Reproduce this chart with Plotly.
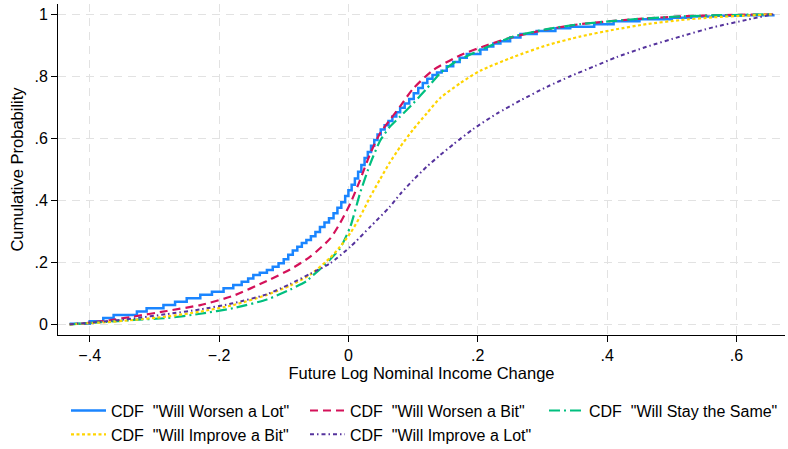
import plotly.graph_objects as go

# Empirical CDFs of future log nominal income change, by expectation group
worsen_lot_x = [-0.431, -0.400, -0.379, -0.363, -0.327, -0.312, -0.286, -0.268, -0.250, -0.229,
                -0.211, -0.193, -0.178, -0.165, -0.155, -0.147, -0.137, -0.126, -0.117, -0.108,
                -0.100, -0.093, -0.086, -0.079, -0.072, -0.065, -0.058, -0.051, -0.044, -0.037,
                -0.030, -0.023, -0.017, -0.011, -0.005, 0.000, 0.005, 0.010, 0.015, 0.020,
                0.025, 0.030, 0.035, 0.040, 0.045, 0.050, 0.056, 0.062, 0.068, 0.074,
                0.080, 0.087, 0.094, 0.101, 0.108, 0.115, 0.122, 0.130, 0.137, 0.144,
                0.152, 0.162, 0.172, 0.183, 0.204, 0.214, 0.224, 0.235, 0.250, 0.266,
                0.291, 0.320, 0.343, 0.380, 0.410, 0.450, 0.500, 0.530, 0.564, 0.610, 0.657]
worsen_lot_p = [0.002, 0.010, 0.020, 0.030, 0.041, 0.052, 0.062, 0.073, 0.084, 0.095,
                0.105, 0.116, 0.127, 0.137, 0.148, 0.159, 0.166, 0.175, 0.186, 0.197,
                0.210, 0.224, 0.238, 0.250, 0.262, 0.272, 0.284, 0.298, 0.314, 0.328,
                0.342, 0.358, 0.376, 0.394, 0.414, 0.432, 0.450, 0.470, 0.492, 0.514,
                0.536, 0.556, 0.576, 0.594, 0.612, 0.628, 0.642, 0.656, 0.670, 0.684,
                0.698, 0.712, 0.727, 0.745, 0.762, 0.778, 0.792, 0.804, 0.812, 0.818,
                0.832, 0.846, 0.860, 0.872, 0.886, 0.896, 0.906, 0.913, 0.925, 0.936,
                0.946, 0.955, 0.960, 0.968, 0.977, 0.984, 0.989, 0.993, 0.995, 0.997, 1.000]

worsen_bit_x = [-0.431, -0.405, -0.370, -0.332, -0.281, -0.229, -0.178, -0.126, -0.090, -0.059,
                -0.028, -0.013, 0.003, 0.018, 0.034, 0.049, 0.064, 0.080, 0.100, 0.131,
                0.173, 0.214, 0.255, 0.307, 0.358, 0.436, 0.513, 0.580, 0.657]
worsen_bit_p = [0.000, 0.004, 0.013, 0.025, 0.043, 0.062, 0.092, 0.140, 0.177, 0.218,
                0.277, 0.326, 0.390, 0.465, 0.552, 0.616, 0.659, 0.703, 0.760, 0.820,
                0.868, 0.900, 0.927, 0.951, 0.968, 0.983, 0.993, 0.997, 1.000]

same_x = [-0.431, -0.380, -0.332, -0.281, -0.229, -0.178, -0.126, -0.090, -0.064, -0.059,
          -0.044, -0.028, -0.013, 0.003, 0.018, 0.034, 0.049, 0.064, 0.080, 0.100,
          0.121, 0.142, 0.162, 0.204, 0.255, 0.307, 0.358, 0.436, 0.513, 0.580, 0.657]
same_p = [0.000, 0.007, 0.014, 0.020, 0.034, 0.052, 0.080, 0.112, 0.140, 0.150,
          0.178, 0.210, 0.245, 0.315, 0.423, 0.519, 0.592, 0.637, 0.670, 0.712,
          0.760, 0.810, 0.842, 0.885, 0.928, 0.952, 0.968, 0.983, 0.993, 0.997, 1.000]

improve_bit_x = [-0.431, -0.380, -0.332, -0.281, -0.229, -0.178, -0.126, -0.090, -0.059, -0.028,
                 -0.013, 0.003, 0.018, 0.034, 0.049, 0.064, 0.080, 0.100, 0.121, 0.142,
                 0.173, 0.204, 0.255, 0.307, 0.358, 0.410, 0.461, 0.513, 0.564, 0.610, 0.657]
improve_bit_p = [0.000, 0.006, 0.014, 0.025, 0.041, 0.062, 0.095, 0.125, 0.160, 0.215,
                 0.250, 0.294, 0.347, 0.412, 0.468, 0.522, 0.572, 0.628, 0.680, 0.730,
                 0.778, 0.818, 0.862, 0.900, 0.928, 0.950, 0.968, 0.981, 0.990, 0.995, 1.000]

improve_lot_x = [-0.431, -0.384, -0.332, -0.281, -0.229, -0.178, -0.126, -0.090, -0.059, -0.028,
                 0.003, 0.034, 0.064, 0.080, 0.100, 0.121, 0.142, 0.162, 0.193, 0.230,
                 0.266, 0.307, 0.343, 0.380, 0.415, 0.461, 0.513, 0.564, 0.616, 0.657]
improve_lot_p = [0.000, 0.008, 0.019, 0.033, 0.048, 0.068, 0.097, 0.130, 0.163, 0.197,
                 0.250, 0.315, 0.379, 0.420, 0.465, 0.508, 0.546, 0.580, 0.630, 0.680,
                 0.722, 0.766, 0.800, 0.832, 0.862, 0.895, 0.928, 0.958, 0.982, 1.000]

series_names = ['CDF  "Will Worsen a Lot"', 'CDF  "Will Worsen a Bit"', 'CDF  "Will Stay the Same"',
                'CDF  "Will Improve a Bit"', 'CDF  "Will Improve a Lot"']

x_tickvals = [-0.4, -0.2, 0, 0.2, 0.4, 0.6]
x_ticktext = ["\u2212.4", "\u2212.2", "0", ".2", ".4", ".6"]
y_tickvals = [0, 0.2, 0.4, 0.6, 0.8, 1.0]
y_ticktext = ["0", ".2", ".4", ".6", ".8", "1"]

FONT = "Liberation Sans, Arial, sans-serif"

fig = go.Figure()
fig.add_trace(go.Scatter(x=worsen_lot_x, y=worsen_lot_p, mode="lines", name=series_names[0],
                         line=dict(color="#1a85ff", width=2.5, shape="hv")))
fig.add_trace(go.Scatter(x=worsen_bit_x, y=worsen_bit_p, mode="lines", name=series_names[1],
                         line=dict(color="#d41159", width=2.2, dash="8px,5px", shape="spline", smoothing=0.6)))
fig.add_trace(go.Scatter(x=same_x, y=same_p, mode="lines", name=series_names[2],
                         line=dict(color="#00bf7f", width=2.2, dash="11px,4px,2px,4px", shape="spline", smoothing=0.6)))
fig.add_trace(go.Scatter(x=improve_bit_x, y=improve_bit_p, mode="lines", name=series_names[3],
                         line=dict(color="#ffd400", width=2.2, dash="3px,2.5px", shape="spline", smoothing=0.6)))
fig.add_trace(go.Scatter(x=improve_lot_x, y=improve_lot_p, mode="lines", name=series_names[4],
                         line=dict(color="#55339d", width=2, dash="4px,3px,1.5px,3px", shape="spline", smoothing=0.6)))

axis_style = dict(showgrid=True, gridcolor="#e2e2e2", gridwidth=1.2, griddash="8px,6px",
                  zeroline=False, showline=True, linecolor="black", linewidth=1,
                  ticks="outside", ticklen=6, tickcolor="black", tickwidth=1,
                  tickfont=dict(family=FONT, size=16, color="black"))

fig.update_xaxes(range=[-0.449, 0.675], tickvals=x_tickvals, ticktext=x_ticktext,
                 title=dict(text="Future Log Nominal Income Change",
                            font=dict(family=FONT, size=16.5, color="black"), standoff=4),
                 **axis_style)
fig.update_yaxes(range=[-0.0345, 1.033], tickvals=y_tickvals, ticktext=y_ticktext,
                 title=dict(text="Cumulative Probability",
                            font=dict(family=FONT, size=16.5, color="black"), standoff=6),
                 **axis_style)

fig.update_layout(
    width=788, height=449,
    margin=dict(l=58, r=3, t=4, b=114, autoexpand=False),
    paper_bgcolor="white", plot_bgcolor="white",
    font=dict(family=FONT, size=16, color="black"),
    legend=dict(orientation="h", x=0.011, xanchor="left", y=-0.177, yanchor="top",
                entrywidth=189, itemwidth=35, tracegroupgap=0,
                font=dict(family=FONT, size=16, color="black"), bgcolor="rgba(0,0,0,0)"),
    showlegend=True,
)

fig.write_html("out.html")
